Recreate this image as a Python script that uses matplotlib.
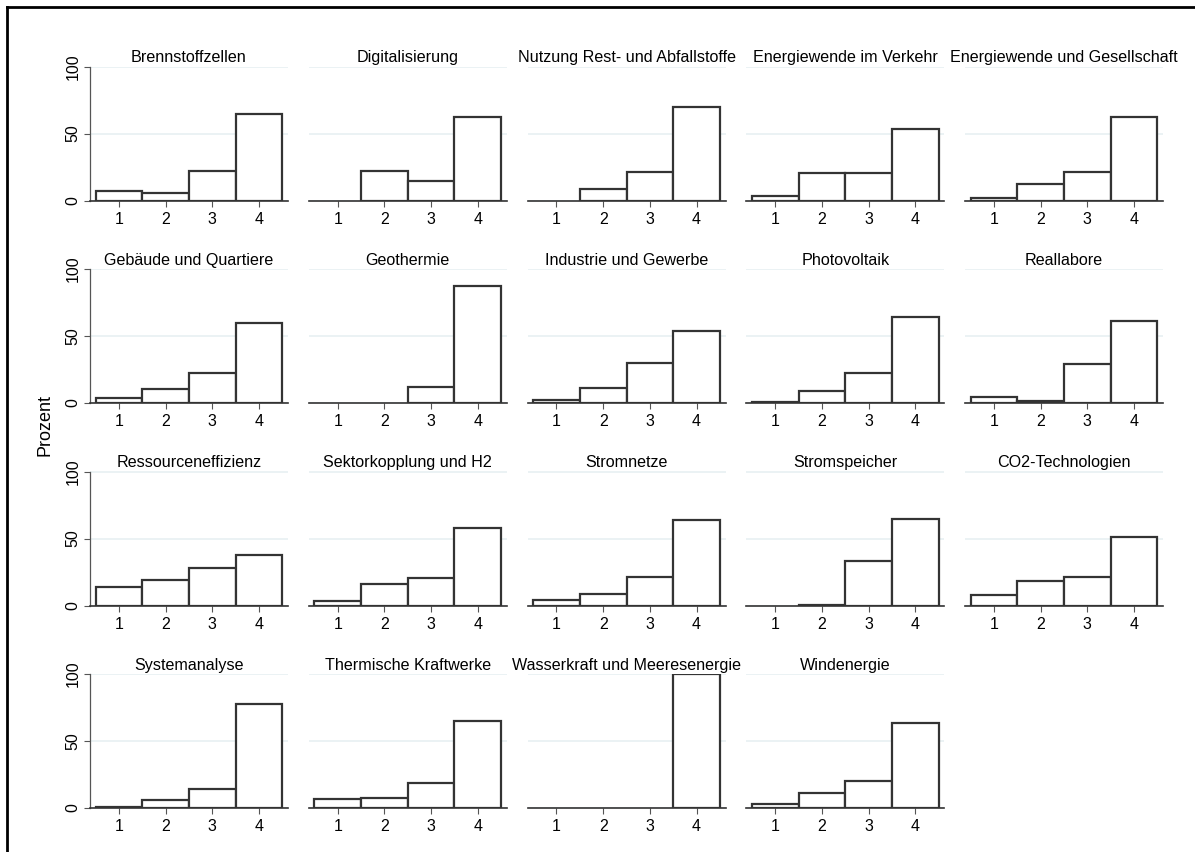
import matplotlib
matplotlib.use("Agg")
from matplotlib import pyplot as plt
from matplotlib.lines import Line2D

plt.rcParams['font.family'] = ['Liberation Sans', 'DejaVu Sans']

categories = [1, 2, 3, 4]

titles = [
    "Brennstoffzellen", "Digitalisierung", "Nutzung Rest- und Abfallstoffe",
    "Energiewende im Verkehr", "Energiewende und Gesellschaft",
    "Gebäude und Quartiere", "Geothermie", "Industrie und Gewerbe",
    "Photovoltaik", "Reallabore",
    "Ressourceneffizienz", "Sektorkopplung und H2", "Stromnetze",
    "Stromspeicher", "CO2-Technologien",
    "Systemanalyse", "Thermische Kraftwerke", "Wasserkraft und Meeresenergie",
    "Windenergie",
]

brennstoffzellen = [7, 5.5, 22, 64.5]
digitalisierung = [0, 22, 14.5, 62.5]
rest_abfall = [0, 8.5, 21, 69.5]
verkehr = [3.5, 20.5, 20.5, 53]
gesellschaft = [1.5, 12.5, 21.5, 62]
gebaeude = [4, 10.5, 22.5, 60]
geothermie = [0, 0, 12, 87.5]
industrie = [2.5, 11, 29.5, 53.5]
photovoltaik = [1, 9, 22.5, 64.5]
reallabore = [4.5, 1.8, 29, 61.5]
ressourcen = [13.8, 18.8, 28, 38]
sektorkopplung = [3.5, 16, 20.5, 58]
stromnetze = [4, 8.5, 21.5, 63.5]
stromspeicher = [0, 0.7, 33.5, 64.5]
co2 = [7.5, 18.5, 21, 51]
systemanalyse = [0.8, 5.8, 14.5, 77.5]
thermische = [6.5, 7.5, 18.5, 65]
wasserkraft = [0, 0, 0, 100]
windenergie = [3, 11, 20.5, 63.5]

values = [
    brennstoffzellen, digitalisierung, rest_abfall, verkehr, gesellschaft,
    gebaeude, geothermie, industrie, photovoltaik, reallabore,
    ressourcen, sektorkopplung, stromnetze, stromspeicher, co2,
    systemanalyse, thermische, wasserkraft, windenergie,
]

W, H = 1195, 852
fig = plt.figure(figsize=(W / 100, H / 100), dpi=100)

col_pitch = 218.75
row_pitch = 202.5
ax_w, ax_h = 198, 134

for i, (title, vals) in enumerate(zip(titles, values)):
    r, c = divmod(i, 5)
    left = 90 + col_pitch * c
    bottom = 200.5 + row_pitch * r
    ax = fig.add_axes([left / W, 1 - bottom / H, ax_w / W, ax_h / H])
    xs = [x for x, v in zip(categories, vals) if v > 0]
    hs = [v for v in vals if v > 0]
    ax.bar(xs, hs, width=1, color="white", edgecolor="#333333", linewidth=1.6, zorder=3)
    ax.set_xlim(0.38, 4.62)
    ax.set_ylim(0, 100)
    ax.set_yticks([0, 50, 100])
    ax.set_xticks(categories)
    ax.grid(axis="y", color="#e8f0f2", linewidth=1.2, zorder=0)
    ax.set_title(title, fontsize=11.6, pad=3)
    for s in ["top", "right"]:
        ax.spines[s].set_visible(False)
    ax.spines["bottom"].set_color("#333333")
    ax.spines["bottom"].set_linewidth(1.2)
    ax.tick_params(axis="x", length=4, width=0.8, color="#555555", labelsize=11.5, pad=4)
    if c == 0:
        ax.spines["left"].set_color("#555555")
        ax.spines["left"].set_linewidth(0.9)
        ax.tick_params(axis="y", length=4, width=0.8, color="#555555", labelsize=11.5, pad=3)
        for lab in ax.get_yticklabels():
            lab.set_rotation(90)
            lab.set_va("center")
    else:
        ax.spines["left"].set_visible(False)
        ax.tick_params(axis="y", left=False, labelleft=False)

fig.text(45 / W, 1 - 425 / H, "Prozent", rotation=90, fontsize=13, ha="center", va="center")

# Rahmen links und oben
fig.add_artist(Line2D([7 / W, 7 / W], [0, 1 - 7 / H], color="black", linewidth=2, transform=fig.transFigure))
fig.add_artist(Line2D([7 / W, 1], [1 - 7 / H, 1 - 7 / H], color="black", linewidth=2, transform=fig.transFigure))

fig.savefig("out.png", dpi=100)
